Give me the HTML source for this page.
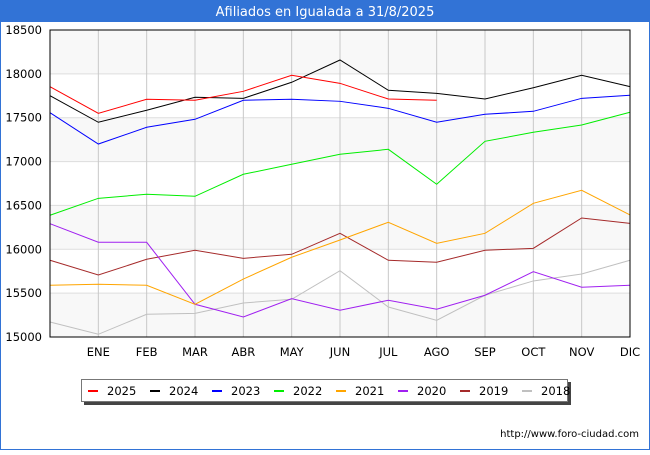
<!DOCTYPE html>
<html><head><meta charset="utf-8"><style>
body{margin:0;width:650px;height:450px;overflow:hidden;background:#fff;font-family:"Liberation Sans","DejaVu Sans",sans-serif}
</style></head><body>
<svg width="650" height="450" xmlns="http://www.w3.org/2000/svg">
<rect x="0.5" y="0.5" width="649" height="449" fill="#fff" stroke="#3273d6"/>
<rect x="0" y="0" width="650" height="22" fill="#3273d6"/>
<text x="325" y="16" text-anchor="middle" fill="#fff" font-size="13" font-family="DejaVu Sans, sans-serif">Afiliados en Igualada a 31/8/2025</text>
<g id="bands"></g><g id="grid"></g><g id="ylab"></g><g id="xlab"></g><g id="lines"></g>
<rect x="50" y="30" width="580" height="307" fill="none" stroke="#000"/>
<rect x="84" y="382" width="487" height="23" fill="#444"/>
<rect x="81.5" y="379.5" width="486" height="22" fill="#fff" stroke="#777"/>
<g id="legend"></g>
<text x="639" y="437" text-anchor="end" font-size="10" font-family="DejaVu Sans, sans-serif" fill="#000">http://www.foro-ciudad.com</text>
</svg>
<script>
const months=["","ENE","FEB","MAR","ABR","MAY","JUN","JUL","AGO","SEP","OCT","NOV","DIC"];
const yTicks=[15000,15500,16000,16500,17000,17500,18000,18500];
const years=["2025","2024","2023","2022","2021","2020","2019","2018"];
const colors=["#ff0000","#000000","#0000ff","#00ee00","#ffa500","#a020f0","#a52a2a","#c0c0c0"];
const s2025=[17854,17550,17710,17699,17801,17984,17892,17713,17699];
const s2024=[17751,17448,17585,17733,17721,17904,18158,17813,17778,17713,17842,17984,17854];
const s2023=[17557,17200,17391,17482,17699,17710,17687,17607,17448,17539,17573,17721,17756];
const s2022=[16388,16581,16627,16604,16855,16969,17083,17140,16741,17231,17334,17417,17562];
const s2021=[15590,15601,15590,15373,15661,15909,16106,16308,16068,16182,16524,16673,16391];
const s2020=[16292,16080,16080,15373,15228,15437,15305,15419,15316,15476,15745,15567,15590];
const s2019=[15875,15707,15886,15989,15897,15943,16182,15875,15852,15989,16011,16357,16296];
const s2018=[15171,15031,15259,15270,15388,15430,15756,15342,15190,15476,15639,15718,15875];
const series=[s2025,s2024,s2023,s2022,s2021,s2020,s2019,s2018];
const NS="http://www.w3.org/2000/svg";
const X=i=>50+i*(580/12);
const Y=v=>337-(v-15000)*307/3500;
function mk(t,a,p){const e=document.createElementNS(NS,t);for(const k in a)e.setAttribute(k,a[k]);document.getElementById(p).appendChild(e);return e;}
for(let i=0;i<yTicks.length-1;i++){
 const r=mk('rect',{x:50,y:Y(yTicks[i+1]),width:580,height:Y(yTicks[i])-Y(yTicks[i+1]),fill:(i%2==0)?'#f8f8f8':'#ffffff'},'bands');
 
 
}
yTicks.forEach(v=>{
 const l=mk('line',{x1:50,x2:630,y1:Y(v),y2:Y(v),stroke:'#dddddd'},'grid');
 
 
 const t=mk('text',{x:42,y:Y(v)+4,'text-anchor':'end','font-size':'11.5','font-family':'DejaVu Sans, sans-serif'},'ylab');
 t.textContent=v;
 
 
});
months.forEach((m,i)=>{
 if(i>0){const l=mk('line',{x1:X(i),x2:X(i),y1:30,y2:337,stroke:'#c8c8c8'},'grid');
 
 }
 const t=mk('text',{x:X(i),y:356,'text-anchor':'middle','font-size':'11.5','font-family':'DejaVu Sans, sans-serif'},'xlab');
 t.textContent=m;
 
 
});
for(let k=series.length-1;k>=0;k--){
 const pts=series[k].map((v,i)=>X(i)+','+Y(v)).join(' ');
 const p=mk('polyline',{points:pts,fill:'none',stroke:colors[k],'stroke-width':1},'lines');
 
 
}
years.forEach((y,k)=>{
 const x=88+k*62;
 const l=mk('line',{x1:x,x2:x+10,y1:391,y2:391,stroke:colors[k],'stroke-width':2},'legend');
 
 
 const t=mk('text',{x:x+19,y:395,'font-size':'11.5','font-family':'DejaVu Sans, sans-serif'},'legend');
 t.textContent=y;
 
 
});
</script>
</body></html>
